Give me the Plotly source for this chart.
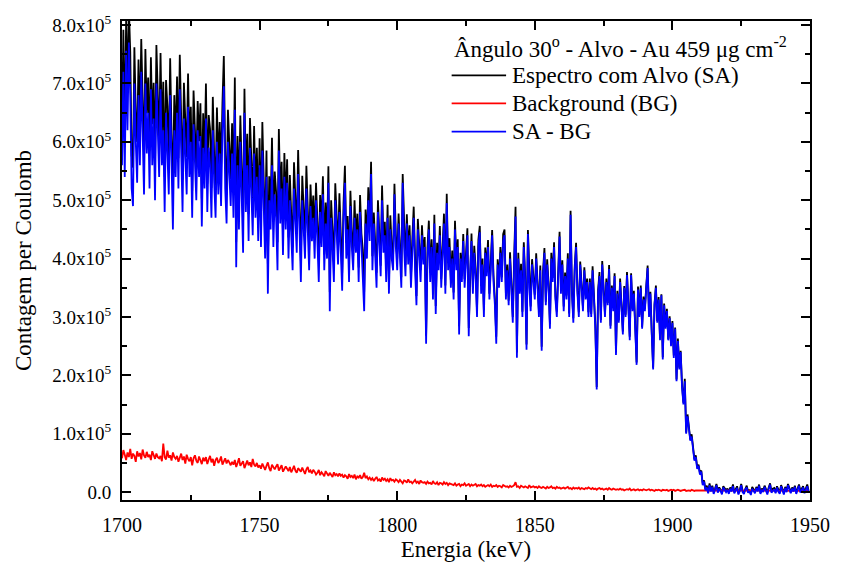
import numpy as np
import plotly.graph_objects as go

# Channel energies: 0.5 keV bins starting at 1700 keV
E_START = 1700.0
E_STEP = 0.5

# Net spectrum (SA - BG), in units of 1e3 counts per Coulomb, 20 channels per row (10 keV)
net_k = [
    560, 720, 540, 756, 620, 770, 680, 520, 490, 700, 600, 530, 680, 560, 720, 620, 510, 700, 580, 650,
    520, 690, 560, 640, 500, 700, 600, 540, 690, 560, 620, 480, 650, 590, 510, 680, 560, 450, 620, 540,
    650, 520, 690, 560, 480, 640, 580, 510, 660, 540, 600, 470, 630, 550, 500, 620, 540, 610, 455, 590,
    520, 640, 480, 590, 560, 470, 620, 530, 470, 600, 510, 580, 490, 620, 695, 520, 460, 600, 540, 490,
    580, 470, 655, 385, 560, 450, 600, 500, 410, 650, 480, 560, 430, 590, 500, 440, 580, 470, 540, 430,
    560, 420, 585, 470, 400, 540, 340, 500, 450, 560, 420, 510, 470, 380, 585, 460, 520, 406, 540, 450,
    530, 400, 500, 440, 380, 520, 470, 410, 545, 430, 360, 500, 460, 400, 520, 440, 380, 490, 430, 470,
    400, 500, 430, 360, 480, 420, 510, 380, 460, 400, 530, 310, 470, 420, 360, 500, 440, 390, 480, 420,
    345, 470, 530, 400, 450, 360, 490, 420, 380, 470, 410, 450, 360, 480, 420, 390, 310, 460, 400, 500,
    430, 545, 380, 460, 400, 350, 480, 420, 370, 500, 410, 440, 360, 470, 340, 450, 400, 380, 510, 420,
    380, 460, 400, 350, 530, 420, 370, 460, 390, 440, 350, 420, 470, 380, 320, 450, 400, 360, 440, 390,
    420, 254, 400, 450, 360, 420, 330, 460, 305, 410, 380, 440, 350, 400, 460, 340, 495, 380, 420, 350,
    400, 330, 450, 380, 420, 270, 400, 360, 430, 350, 400, 440, 267, 380, 430, 340, 410, 370, 300, 420,
    445, 340, 390, 300, 410, 370, 420, 330, 380, 440, 360, 320, 254, 390, 350, 410, 360, 430, 440, 330,
    380, 320, 400, 350, 290, 390, 472, 230, 400, 340, 380, 300, 420, 360, 244, 442, 350, 310, 390, 360,
    330, 400, 350, 300, 380, 242, 370, 410, 320, 390, 350, 280, 400, 360, 420, 330, 300, 380, 438, 340,
    390, 310, 370, 330, 400, 300, 475, 340, 290, 380, 420, 340, 300, 390, 350, 310, 380, 330, 360, 300,
    360, 300, 380, 330, 280, 176, 340, 370, 290, 390, 340, 300, 360, 320, 382, 280, 350, 310, 370, 235,
    340, 290, 360, 310, 270, 350, 300, 372, 320, 260, 372, 310, 340, 290, 218, 347, 300, 350, 280, 330,
    310, 350, 384, 300, 340, 270, 210, 320, 350, 290, 330, 260, 337, 227, 320, 280, 310, 260, 298, 250,
    290, 230, 280, 190, 259, 210, 240, 180, 150, 190, 100, 130, 110, 88, 95, 70, 54, 60, 40, 45,
    30, 35, 12, 18, 3, 8, -2, 12, 1, 9, -3, 4, 12, -1, 6, 2, -4, 8, 3, 0,
    4, -3, 6, 1, 10, -2, 3, 7, -4, 2, 12, 0, -3, 5, 8, -1, 2, -5, 6, 3,
    -2, 7, 1, 11, -3, 4, 0, 9, 2, -4, 6, 13, -1, 3, 5, -2, 8, 1, -3, 10,
    2, -4, 7, 0, 12, 3, -2, 6, 1, 9, -3, 4, 11, -1, 5, 8, -2, 3, 10, 0,
]

# Background spectrum (BG), in units of 1e3 counts per Coulomb
bg_k = [
    58, 72, 64, 55, 68, 60, 74, 57, 66, 62, 52, 70, 61, 67, 56, 73, 63, 59, 69, 60,
    64, 55, 70, 61, 57, 66, 60, 58, 62, 53, 83, 60, 56, 71, 59, 63, 54, 68, 60, 57,
    62, 52, 59, 66, 55, 61, 49, 64, 57, 53, 60, 46, 58, 63, 54, 50, 61, 56, 48, 59,
    53, 60, 48, 56, 62, 51, 57, 45, 55, 59, 50, 54, 61, 47, 52, 58, 49, 55, 51, 46,
    52, 47, 55, 43, 50, 58, 45, 49, 53, 41, 48, 54, 46, 51, 43, 57, 47, 44, 50, 42,
    46, 40, 49, 43, 38, 45, 51, 41, 36, 47, 43, 39, 44, 48, 37, 42, 46, 35, 41, 44,
    40, 36, 43, 34, 39, 45, 37, 33, 41, 38, 35, 42, 36, 31, 39, 43, 34, 37, 32, 38,
    35, 30, 33, 38, 29, 34, 31, 27, 36, 32, 28, 33, 30, 26, 34, 29, 31, 27, 32, 28,
    30, 25, 29, 27, 23, 31, 26, 28, 24, 30, 22, 27, 25, 29, 23, 26, 33, 24, 27, 22,
    25, 21, 24, 19, 23, 26, 20, 22, 18, 25, 21, 23, 19, 22, 17, 24, 20, 21, 18, 22,
    20, 17, 21, 18, 15, 20, 19, 16, 22, 17, 18, 15, 19, 21, 16, 18, 14, 20, 17, 16,
    17, 14, 18, 15, 16, 13, 19, 15, 14, 17, 12, 16, 15, 13, 17, 14, 16, 12, 15, 14,
    14, 12, 15, 11, 13, 14, 10, 13, 12, 15, 11, 12, 14, 10, 13, 11, 12, 14, 10, 12,
    11, 13, 10, 12, 9, 11, 12, 10, 13, 9, 11, 10, 12, 9, 11, 10, 8, 12, 10, 9,
    10, 8, 11, 9, 10, 12, 17, 9, 10, 7, 11, 9, 8, 10, 9, 7, 12, 8, 9, 10,
    8, 9, 7, 10, 8, 7, 9, 8, 6, 9, 7, 8, 10, 7, 8, 6, 9, 7, 8, 6,
    7, 8, 6, 7, 9, 6, 7, 5, 8, 6, 7, 6, 8, 5, 7, 6, 5, 7, 6, 8,
    6, 5, 7, 5, 6, 4, 6, 7, 5, 6, 4, 5, 6, 4, 7, 5, 4, 6, 5, 4,
    5, 4, 6, 4, 5, 3, 4, 5, 4, 6, 3, 4, 5, 3, 4, 5, 3, 4, 3, 5,
    4, 3, 4, 5, 3, 4, 3, 2, 4, 3, 4, 3, 2, 4, 3, 3, 4, 2, 3, 4,
    3, 4, 2, 3, 4, 3, 2, 3, 3, 4, 2, 3, 3, 2, 4, 3, 2, 3, 3, 2,
    3, 2, 3, 2, 2, 3, 2, 3, 2, 2, 3, 2, 2, 3, 2, 2, 3, 2, 2, 3,
    2, 3, 2, 2, 3, 2, 2, 3, 2, 2, 2, 3, 2, 2, 3, 2, 2, 2, 3, 2,
    2, 2, 3, 2, 2, 2, 3, 2, 2, 3, 2, 2, 2, 3, 2, 2, 2, 3, 2, 2,
    2, 3, 2, 2, 2, 3, 2, 2, 2, 2, 3, 2, 2, 3, 2, 2, 2, 2, 3, 2,
]

y_tick_vals = [0, 1e5, 2e5, 3e5, 4e5, 5e5, 6e5, 7e5, 8e5]
y_tick_text = ["0.0"] + [f"{v}.0x10<sup>5</sup>" for v in range(1, 9)]
x_tick_vals = [1700, 1750, 1800, 1850, 1900, 1950]

series_names = ["Espectro com Alvo (SA)", "Background (BG)", "SA - BG"]
series_colors = ["#000000", "#ff0000", "#0000ff"]
legend_title = "Ângulo 30<sup>o</sup> - Alvo - Au 459 μg cm<sup>-2</sup>"

energy = E_START + E_STEP * np.arange(len(net_k))
net = np.array(net_k, dtype=float) * 1e3
bg = np.array(bg_k, dtype=float) * 1e3
sa = net + bg  # spectrum with target = net + background

FONT = '"Liberation Serif", "Times New Roman", serif'
W, H = 842, 572
ML, MR, MT, MB = 122, 25, 15, 72
PW, PH = W - ML - MR, H - MT - MB


def px_x(px):
    """Pixel column -> paper x fraction."""
    return (px - ML) / PW


def px_y(py):
    """Pixel row (from top) -> paper y fraction."""
    return (H - MB - py) / PH


fig = go.Figure()
for yv, name, color in zip([sa, bg, net], series_names, series_colors):
    fig.add_trace(go.Scatter(x=energy, y=yv, mode="lines", name=name, showlegend=False,
                             line=dict(color=color, width=1.8)))

axis_common = dict(
    showline=True, linecolor="black", linewidth=2, mirror="ticks",
    ticks="inside", tickcolor="black", tickwidth=2, ticklen=9,
    showgrid=False, zeroline=False,
)

fig.update_xaxes(
    range=[1700, 1950], tickvals=x_tick_vals,
    tickfont=dict(family=FONT, size=20, color="black"), ticklabelstandoff=6,
    minor=dict(ticks="inside", dtick=25, tick0=1700, ticklen=5, tickwidth=2, tickcolor="black"),
    title=dict(text="Energia (keV)", font=dict(family=FONT, size=23, color="black"), standoff=6),
    **axis_common,
)
fig.update_yaxes(
    range=[-13500, 807000], tickvals=y_tick_vals, ticktext=y_tick_text,
    tickfont=dict(family=FONT, size=19, color="black"), ticklabelstandoff=5,
    minor=dict(ticks="inside", dtick=50000, tick0=0, ticklen=5, tickwidth=2, tickcolor="black"),
    title=dict(text="Contagem per Coulomb", font=dict(family=FONT, size=23, color="black"), standoff=14),
    **axis_common,
)

# Legend block: title line followed by one line sample + label per series
annotations = [dict(
    xref="paper", yref="paper", x=px_x(455), y=px_y(42), xanchor="left", yanchor="middle",
    text=legend_title, showarrow=False, font=dict(family=FONT, size=23, color="black"),
)]
shapes = []
for i, (name, color) in enumerate(zip(series_names, series_colors)):
    yrow = 70 + 28.5 * i
    shapes.append(dict(type="line", xref="paper", yref="paper",
                       x0=px_x(455), x1=px_x(510), y0=px_y(yrow), y1=px_y(yrow),
                       line=dict(color=color, width=1.8)))
    annotations.append(dict(
        xref="paper", yref="paper", x=px_x(514), y=px_y(yrow), xanchor="left", yanchor="middle",
        text=name, showarrow=False, font=dict(family=FONT, size=23, color="black"),
    ))

fig.update_layout(
    width=W, height=H,
    margin=dict(l=ML, r=MR, t=MT, b=MB),
    plot_bgcolor="white", paper_bgcolor="white",
    font=dict(family=FONT, color="black"),
    showlegend=False,
    annotations=annotations,
    shapes=shapes,
)

fig.write_html("out.html")
